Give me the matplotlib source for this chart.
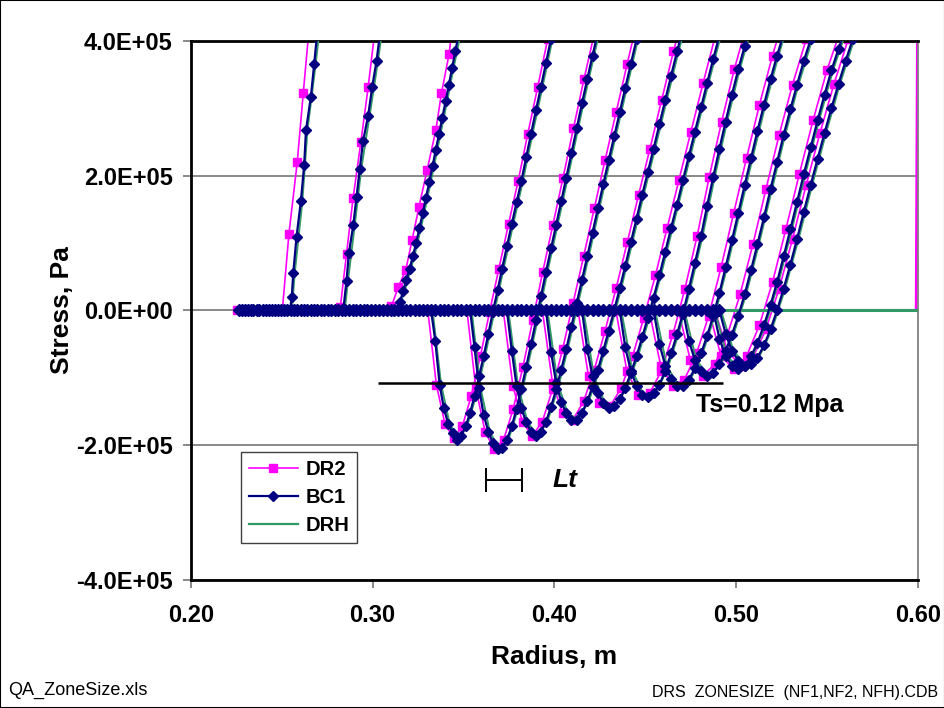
import numpy as np
import matplotlib
matplotlib.use("Agg")
import matplotlib.pyplot as plt
from matplotlib.ticker import FuncFormatter, MultipleLocator
from matplotlib.patches import Rectangle

# stress values are in units of 1E+05 Pa, radius in m

# BC1 mesh radii on the unloaded (zero stress) band
zone_r = [0.2265, 0.2281, 0.2297, 0.2313, 0.2329, 0.2345, 0.2362, 0.2378, 0.2395, 0.2412,
          0.2429, 0.2446, 0.2463, 0.2480, 0.2497, 0.2515, 0.2532, 0.2550, 0.2568, 0.2586,
          0.2604, 0.2622, 0.2640, 0.2659, 0.2677, 0.2696, 0.2715, 0.2734, 0.2753, 0.2772,
          0.2791, 0.2811, 0.2830, 0.2850, 0.2870, 0.2890, 0.2910, 0.2931, 0.2951, 0.2972,
          0.2992, 0.3013, 0.3034, 0.3056, 0.3077, 0.3099, 0.3120, 0.3142, 0.3164, 0.3186,
          0.3208, 0.3231, 0.3253, 0.3276, 0.3299, 0.3322, 0.3345, 0.3369, 0.3392, 0.3416,
          0.3440, 0.3464, 0.3488, 0.3512, 0.3537, 0.3561, 0.3586, 0.3611, 0.3637, 0.3662,
          0.3688, 0.3713, 0.3739, 0.3766, 0.3792, 0.3819, 0.3845, 0.3872, 0.3899, 0.3927,
          0.3954, 0.3982, 0.4010, 0.4038, 0.4066, 0.4094, 0.4123, 0.4152, 0.4181, 0.4210,
          0.4240, 0.4269, 0.4299, 0.4329, 0.4360, 0.4390, 0.4421, 0.4452, 0.4483, 0.4514,
          0.4546, 0.4578, 0.4610, 0.4642, 0.4675, 0.4707, 0.4740, 0.4773, 0.4807, 0.4840,
          0.4874, 0.4908]

# BC1 snapshots (front part of each profile)
bc1_r = [
    [.2546, .2556, .2564, .2582, .2606, .2624, .2634, .2661, .2679, .2697],
    [.2839, .2857, .2870, .2894, .2912, .2930, .2948, .2976, .2998, .3022, .3040],
    [.3132, .3150, .3168, .3186, .3204, .3222, .3240, .3258, .3276, .3294, .3312, .3330,
     .3348, .3366, .3384, .3402, .3420, .3438, .3456, .3474],
    [.3322, .3345, .3369, .3392, .3416, .3440, .3464, .3488, .3512, .3537, .3561, .3586,
     .3611, .3637, .3662, .3688, .3713, .3739, .3766, .3792, .3819, .3845, .3872, .3899,
     .3927, .3954, .3982, .4010],
    [.3537, .3561, .3586, .3611, .3637, .3662, .3688, .3713, .3739, .3766, .3792, .3819,
     .3845, .3872, .3899, .3927, .3954, .3982, .4010, .4038, .4066, .4094, .4123, .4152,
     .4181, .4210, .4240],
    [.3739, .3766, .3792, .3819, .3845, .3872, .3899, .3927, .3954, .3982, .4010, .4038,
     .4066, .4094, .4123, .4152, .4181, .4210, .4240, .4269, .4299, .4329, .4360, .4390,
     .4421, .4452, .4483],
    [.3954, .3982, .4010, .4038, .4066, .4094, .4123, .4152, .4181, .4210, .4240, .4269,
     .4299, .4329, .4360, .4390, .4421, .4452, .4483, .4514, .4546, .4578, .4610, .4642,
     .4675, .4707],
    [.4152, .4181, .4210, .4240, .4269, .4299, .4329, .4360, .4390, .4421, .4452, .4483,
     .4514, .4546, .4578, .4610, .4642, .4675, .4707, .4740, .4773, .4807, .4840, .4874,
     .4908],
    [.4360, .4390, .4421, .4452, .4483, .4514, .4546, .4578, .4610, .4642, .4675, .4707,
     .4740, .4773, .4807, .4840, .4874, .4908, .4942, .4977, .5012, .5047, .5082],
    [.4546, .4578, .4610, .4642, .4675, .4707, .4740, .4773, .4807, .4840, .4874, .4908,
     .4942, .4977, .5012, .5047, .5082, .5117, .5153, .5189, .5225, .5261],
    [.4707, .4740, .4773, .4807, .4840, .4874, .4908, .4942, .4977, .5012, .5047, .5082,
     .5117, .5153, .5189, .5225, .5261, .5298, .5335, .5372, .5410, .5448],
    [.4874, .4908, .4942, .4977, .5012, .5047, .5082, .5117, .5153, .5189, .5225, .5261,
     .5298, .5335, .5372, .5410, .5448, .5486, .5524, .5563, .5602],
    [.4908, .4942, .4977, .5012, .5047, .5082, .5117, .5153, .5189, .5225, .5261, .5298,
     .5335, .5372, .5410, .5448, .5486, .5524, .5563, .5602, .5641, .5680],
]
bc1_s = [
    [0, .2, .55, 1.09, 1.62, 2.15, 2.67, 3.17, 3.65, 4.15],
    [0, .44, .85, 1.26, 1.68, 2.10, 2.51, 2.89, 3.31, 3.70, 4.08],
    [0, .12, .28, .45, .62, .80, 1.0, 1.22, 1.44, 1.67, 1.90, 2.14, 2.38, 2.62, 2.86, 3.10,
     3.35, 3.60, 3.85, 4.10],
    [0, -.45, -1.10, -1.45, -1.68, -1.82, -1.92, -1.86, -1.72, -1.52, -1.27, -.98, -.68,
     -.35, -.02, .30, .62, .95, 1.28, 1.60, 1.92, 2.27, 2.62, 2.97, 3.32, 3.67, 4.03, 4.40],
    [0, -.55, -1.15, -1.55, -1.80, -1.97, -2.06, -2.04, -1.92, -1.72, -1.46, -1.16, -.84,
     -.50, -.15, .22, .57, .92, 1.27, 1.62, 1.97, 2.33, 2.70, 3.07, 3.43, 3.78, 4.13],
    [0, -.60, -1.12, -1.45, -1.66, -1.80, -1.86, -1.80, -1.65, -1.43, -1.17, -.88, -.57,
     -.24, .11, .45, .80, 1.15, 1.52, 1.87, 2.23, 2.58, 2.94, 3.30, 3.66, 4.02, 4.38],
    [0, -.62, -1.08, -1.36, -1.53, -1.63, -1.62, -1.52, -1.35, -1.13, -.88, -.60, -.30, 0,
     .33, .66, 1.01, 1.36, 1.71, 2.05, 2.40, 2.76, 3.12, 3.48, 3.84, 4.18],
    [0, -.58, -.98, -1.23, -1.37, -1.45, -1.42, -1.32, -1.15, -.93, -.68, -.40, -.11, .19,
     .52, .87, 1.22, 1.57, 1.93, 2.29, 2.65, 3.01, 3.37, 3.73, 4.08],
    [0, -.55, -.90, -1.12, -1.25, -1.29, -1.23, -1.10, -.90, -.64, -.35, -.05, .32, .70,
     1.10, 1.55, 1.98, 2.40, 2.80, 3.20, 3.58, 3.92, 4.25],
    [0, -.50, -.82, -1.02, -1.12, -1.12, -1.03, -.86, -.64, -.38, -.08, .26, .64, 1.04,
     1.45, 1.86, 2.26, 2.66, 3.05, 3.43, 3.78, 4.10],
    [0, -.45, -.74, -.90, -.97, -.93, -.80, -.60, -.36, -.08, .24, .60, .98, 1.38, 1.80,
     2.20, 2.60, 2.98, 3.35, 3.70, 4.02, 4.32],
    [0, -.42, -.68, -.82, -.87, -.82, -.68, -.48, -.22, .08, .42, .80, 1.20, 1.61, 2.02,
     2.42, 2.82, 3.20, 3.56, 3.88, 4.18],
    [0, -.35, -.60, -.75, -.82, -.80, -.70, -.52, -.28, 0, .32, .68, 1.06, 1.46, 1.86,
     2.25, 2.63, 3.00, 3.36, 3.70, 4.02, 4.32],
]

# DR2 snapshots (coarser zoning)
dr2_r = [
    [.2504, .2540, .2586, .2619, .2655],
    [.2805, .2823, .2857, .2893, .2936, .2976, .3013],
    [.3086, .3104, .3141, .3183, .3218, .3256, .3300, .3348, .3379, .3421, .3445],
    [.3304, .3351, .3398, .3446, .3494, .3543, .3593, .3644, .3695, .3748, .3801, .3854,
     .3909, .3964, .4019],
    [.3519, .3568, .3619, .3670, .3721, .3774, .3827, .3881, .3936, .3992, .4048, .4105,
     .4163, .4222],
    [.3719, .3772, .3825, .3879, .3934, .3990, .4046, .4103, .4161, .4220, .4279, .4340,
     .4401, .4463],
    [.3934, .3990, .4046, .4103, .4161, .4220, .4279, .4340, .4401, .4463, .4526, .4590,
     .4655, .4720],
    [.4130, .4188, .4247, .4307, .4368, .4430, .4492, .4556, .4620, .4685, .4751, .4818,
     .4886],
    [.4338, .4399, .4461, .4524, .4588, .4653, .4718, .4785, .4852, .4920, .4990, .5060],
    [.4521, .4585, .4650, .4715, .4782, .4849, .4917, .4987, .5057, .5128, .5200, .5272],
    [.4682, .4748, .4815, .4883, .4952, .5022, .5092, .5164, .5236, .5310, .5385, .5461],
    [.4849, .4917, .4987, .5057, .5128, .5200, .5273, .5347, .5423, .5499, .5577],
    [.4883, .4952, .5022, .5092, .5164, .5236, .5310, .5385, .5461, .5538, .5616, .5695],
]
dr2_s = [
    [0, 1.13, 2.20, 3.22, 4.3],
    [0, .05, .84, 1.66, 2.50, 3.31, 4.15],
    [0, .06, .34, .60, 1.05, 1.54, 2.08, 2.67, 3.22, 3.80, 4.35],
    [0, -1.10, -1.68, -1.90, -1.72, -1.27, -.68, -.02, .62, 1.28, 1.92, 2.62, 3.32, 4.03, 4.7],
    [0, -1.15, -1.80, -2.06, -1.92, -1.46, -.84, -.15, .57, 1.27, 1.97, 2.70, 3.43, 4.13],
    [0, -1.12, -1.66, -1.86, -1.65, -1.17, -.57, .11, .80, 1.52, 2.23, 2.94, 3.66, 4.38],
    [0, -1.08, -1.53, -1.62, -1.35, -.88, -.30, .33, 1.01, 1.71, 2.40, 3.12, 3.84, 4.5],
    [0, -.98, -1.37, -1.42, -1.15, -.68, -.11, .52, 1.22, 1.93, 2.65, 3.37, 4.08],
    [0, -.90, -1.25, -1.23, -.90, -.35, .32, 1.10, 1.98, 2.80, 3.58, 4.25],
    [0, -.82, -1.12, -1.03, -.64, -.08, .64, 1.45, 2.26, 3.05, 3.78, 4.45],
    [0, -.74, -.97, -.80, -.36, .24, .98, 1.80, 2.60, 3.35, 4.02, 4.6],
    [0, -.68, -.87, -.68, -.22, .42, 1.20, 2.02, 2.82, 3.56, 4.18],
    [0, -.60, -.82, -.70, -.28, .32, 1.06, 1.86, 2.63, 3.36, 4.02, 4.6],
]
dr2_zero_r = [0.2253, 0.4880]
dr2_edge_r = [0.4880, 0.5990, 0.6000]
dr2_edge_s = [0, 0, 6.0]

# DRH snapshots (line only)
drh_r = [
    [.2556, .2572, .2614, .2642, .2687, .2710],
    [.2847, .2865, .2902, .2938, .2984, .3030, .3050],
    [.3140, .3176, .3230, .3266, .3302, .3338, .3374, .3410, .3446, .3484],
    [.3330, .3377, .3424, .3472, .3520, .3569, .3619, .3670, .3721, .3774, .3827, .3880,
     .3935, .3990, .4018],
    [.3545, .3594, .3645, .3696, .3747, .3800, .3853, .3907, .3962, .4018, .4074, .4131,
     .4189, .4248],
    [.3747, .3800, .3853, .3907, .3962, .4018, .4074, .4131, .4189, .4248, .4307, .4368,
     .4429, .4491],
    [.3962, .4018, .4074, .4131, .4189, .4248, .4307, .4368, .4429, .4491, .4554, .4618,
     .4683, .4748],
    [.4160, .4218, .4277, .4337, .4398, .4460, .4522, .4586, .4650, .4715, .4781, .4848,
     .4916],
    [.4368, .4429, .4491, .4554, .4618, .4683, .4748, .4815, .4882, .4950, .5020, .5090],
    [.4554, .4618, .4683, .4748, .4815, .4882, .4950, .5020, .5090, .5161, .5233, .5305],
    [.4715, .4781, .4848, .4916, .4985, .5055, .5125, .5197, .5269, .5343, .5418, .5494],
    [.4882, .4950, .5020, .5090, .5161, .5233, .5306, .5380, .5456, .5532, .5610],
    [.4916, .4985, .5055, .5125, .5197, .5269, .5343, .5418, .5494, .5571, .5649, .5728],
]
drh_s = [
    [0, .55, 1.62, 2.67, 3.65, 4.2],
    [0, .44, 1.26, 2.10, 2.89, 3.70, 4.1],
    [0, .28, .80, 1.22, 1.67, 2.14, 2.62, 3.10, 3.60, 4.1],
    [0, -1.10, -1.68, -1.92, -1.72, -1.27, -.68, -.02, .62, 1.28, 1.92, 2.62, 3.32, 4.03, 4.40],
    [0, -1.15, -1.80, -2.06, -1.92, -1.46, -.84, -.15, .57, 1.27, 1.97, 2.70, 3.43, 4.13],
    [0, -1.12, -1.66, -1.86, -1.65, -1.17, -.57, .11, .80, 1.52, 2.23, 2.94, 3.66, 4.38],
    [0, -1.08, -1.53, -1.62, -1.35, -.88, -.30, .33, 1.01, 1.71, 2.40, 3.12, 3.84, 4.5],
    [0, -.98, -1.37, -1.42, -1.15, -.68, -.11, .52, 1.22, 1.93, 2.65, 3.37, 4.08],
    [0, -.90, -1.25, -1.23, -.90, -.35, .32, 1.10, 1.98, 2.80, 3.58, 4.25],
    [0, -.82, -1.12, -1.03, -.64, -.08, .64, 1.45, 2.26, 3.05, 3.78, 4.45],
    [0, -.74, -.97, -.80, -.36, .24, .98, 1.80, 2.60, 3.35, 4.02, 4.6],
    [0, -.68, -.87, -.68, -.22, .42, 1.20, 2.02, 2.82, 3.56, 4.18],
    [0, -.60, -.82, -.70, -.28, .32, 1.06, 1.86, 2.63, 3.36, 4.02, 4.6],
]
drh_zero_r = [0.2265, 0.6000]

# annotations
ts_level = -1.08          # tensile strength line
ts_span = [0.303, 0.4925]
lt_span = [0.3626, 0.3824]
lt_level = -2.51

SC = 1e5
C_DR2, C_BC1, C_DRH = "#FF00FF", "#000080", "#339966"

plt.rcParams["font.family"] = ["Liberation Sans", "DejaVu Sans"]

fig = plt.figure(figsize=(9.45, 7.08), dpi=100)
ax = fig.add_axes([190.7 / 945, 1 - 580 / 708, (918 - 190.7) / 945, (580 - 40.7) / 708])

# DR2 (bottom), DRH, BC1 (top)
ax.plot(dr2_zero_r, [0, 0], color=C_DR2, lw=1.2, marker="s", ms=5.2, markevery=[0], zorder=2)
ax.plot(dr2_edge_r, np.array(dr2_edge_s) * SC, color=C_DR2, lw=2.0, zorder=2)
for r, s in zip(dr2_r, dr2_s):
    ax.plot(r, np.array(s) * SC, color=C_DR2, lw=1.2, marker="s", ms=5.2, mec=C_DR2, zorder=2)

ax.plot(drh_zero_r, [0, 0], color=C_DRH, lw=2.2, zorder=3)
for r, s in zip(drh_r, drh_s):
    ax.plot(r, np.array(s) * SC, color=C_DRH, lw=1.4, zorder=3)

ax.plot(zone_r, np.zeros(len(zone_r)), color=C_BC1, lw=1.5, marker="D", ms=6.2, mec=C_BC1,
        zorder=4)
for r, s in zip(bc1_r, bc1_s):
    ax.plot(r, np.array(s) * SC, color=C_BC1, lw=1.6, marker="D", ms=5.4, mec=C_BC1, zorder=4)

# legend proxies
h_dr2, = ax.plot([], [], color=C_DR2, lw=1.2, marker="s", ms=5.2)
h_bc1, = ax.plot([], [], color=C_BC1, lw=1.6, marker="D", ms=5.2)
h_drh, = ax.plot([], [], color=C_DRH, lw=1.6)

# Ts line and Lt bar
ax.hlines(ts_level * SC, ts_span[0], ts_span[1], color="black", lw=1.8, zorder=5)
ax.text(0.4780, ts_level * SC - 0.33 * SC, "Ts=0.12 Mpa", fontsize=18, fontweight="bold",
        va="center", ha="left", zorder=6)
ax.errorbar([sum(lt_span) / 2], [lt_level * SC], xerr=[(lt_span[1] - lt_span[0]) / 2],
            fmt="none", ecolor="black", elinewidth=1.4, capsize=8.5, capthick=1.4)
ax.text(0.3990, lt_level * SC, "Lt", fontsize=19, fontweight="bold", fontstyle="italic",
        va="center", ha="left")

ax.set_xlim(0.2, 0.6)
ax.set_ylim(-4e5, 4e5)
ax.xaxis.set_major_locator(MultipleLocator(0.1))
ax.yaxis.set_major_locator(MultipleLocator(2e5))
ax.xaxis.set_major_formatter(FuncFormatter(lambda v, p: f"{v:.2f}"))
ax.yaxis.set_major_formatter(FuncFormatter(lambda v, p: f"{v:.1E}"))
ax.grid(axis="y", color="#808080", lw=1.3, zorder=0)
ax.set_axisbelow(True)
ax.tick_params(direction="out", length=6, width=1.3, color="#808080", labelsize=17, pad=7)
ax.tick_params(axis="x", pad=11)
for lab in ax.get_xticklabels() + ax.get_yticklabels():
    lab.set_fontweight("bold")
for side in ("left", "bottom", "top"):
    ax.spines[side].set_color("black")
    ax.spines[side].set_linewidth(2.0)
ax.spines["right"].set_color("#808080")
ax.spines["right"].set_linewidth(1.3)

ax.set_xlabel("Radius, m", fontsize=19, fontweight="bold")
ax.set_ylabel("Stress, Pa", fontsize=19, fontweight="bold")
ax.xaxis.set_label_coords(0.5, -0.121)
ax.yaxis.set_label_coords(-0.160, 0.5)

leg = ax.legend([h_dr2, h_bc1, h_drh], ["DR2", "BC1", "DRH"], loc="upper left",
                bbox_to_anchor=(0.0688, 0.237), borderaxespad=0, fancybox=False,
                framealpha=1, edgecolor="#404040", prop={"weight": "bold", "size": 14.5},
                handlelength=2.45, handletextpad=0.35, borderpad=0.4, labelspacing=0.45)
leg.get_frame().set_linewidth(1.0)

fig.text(8 / 945, 1 - 690 / 708, "QA_ZoneSize.xls", fontsize=13, va="center", ha="left")
fig.text(938 / 945, 1 - 692 / 708, "DRS  ZONESIZE  (NF1,NF2, NFH).CDB", fontsize=11.5,
         va="center", ha="right")
fig.add_artist(Rectangle((0, 0), 1, 1, transform=fig.transFigure, fill=False,
                         edgecolor="black", lw=1.5))

fig.savefig("out.png", dpi=100)
